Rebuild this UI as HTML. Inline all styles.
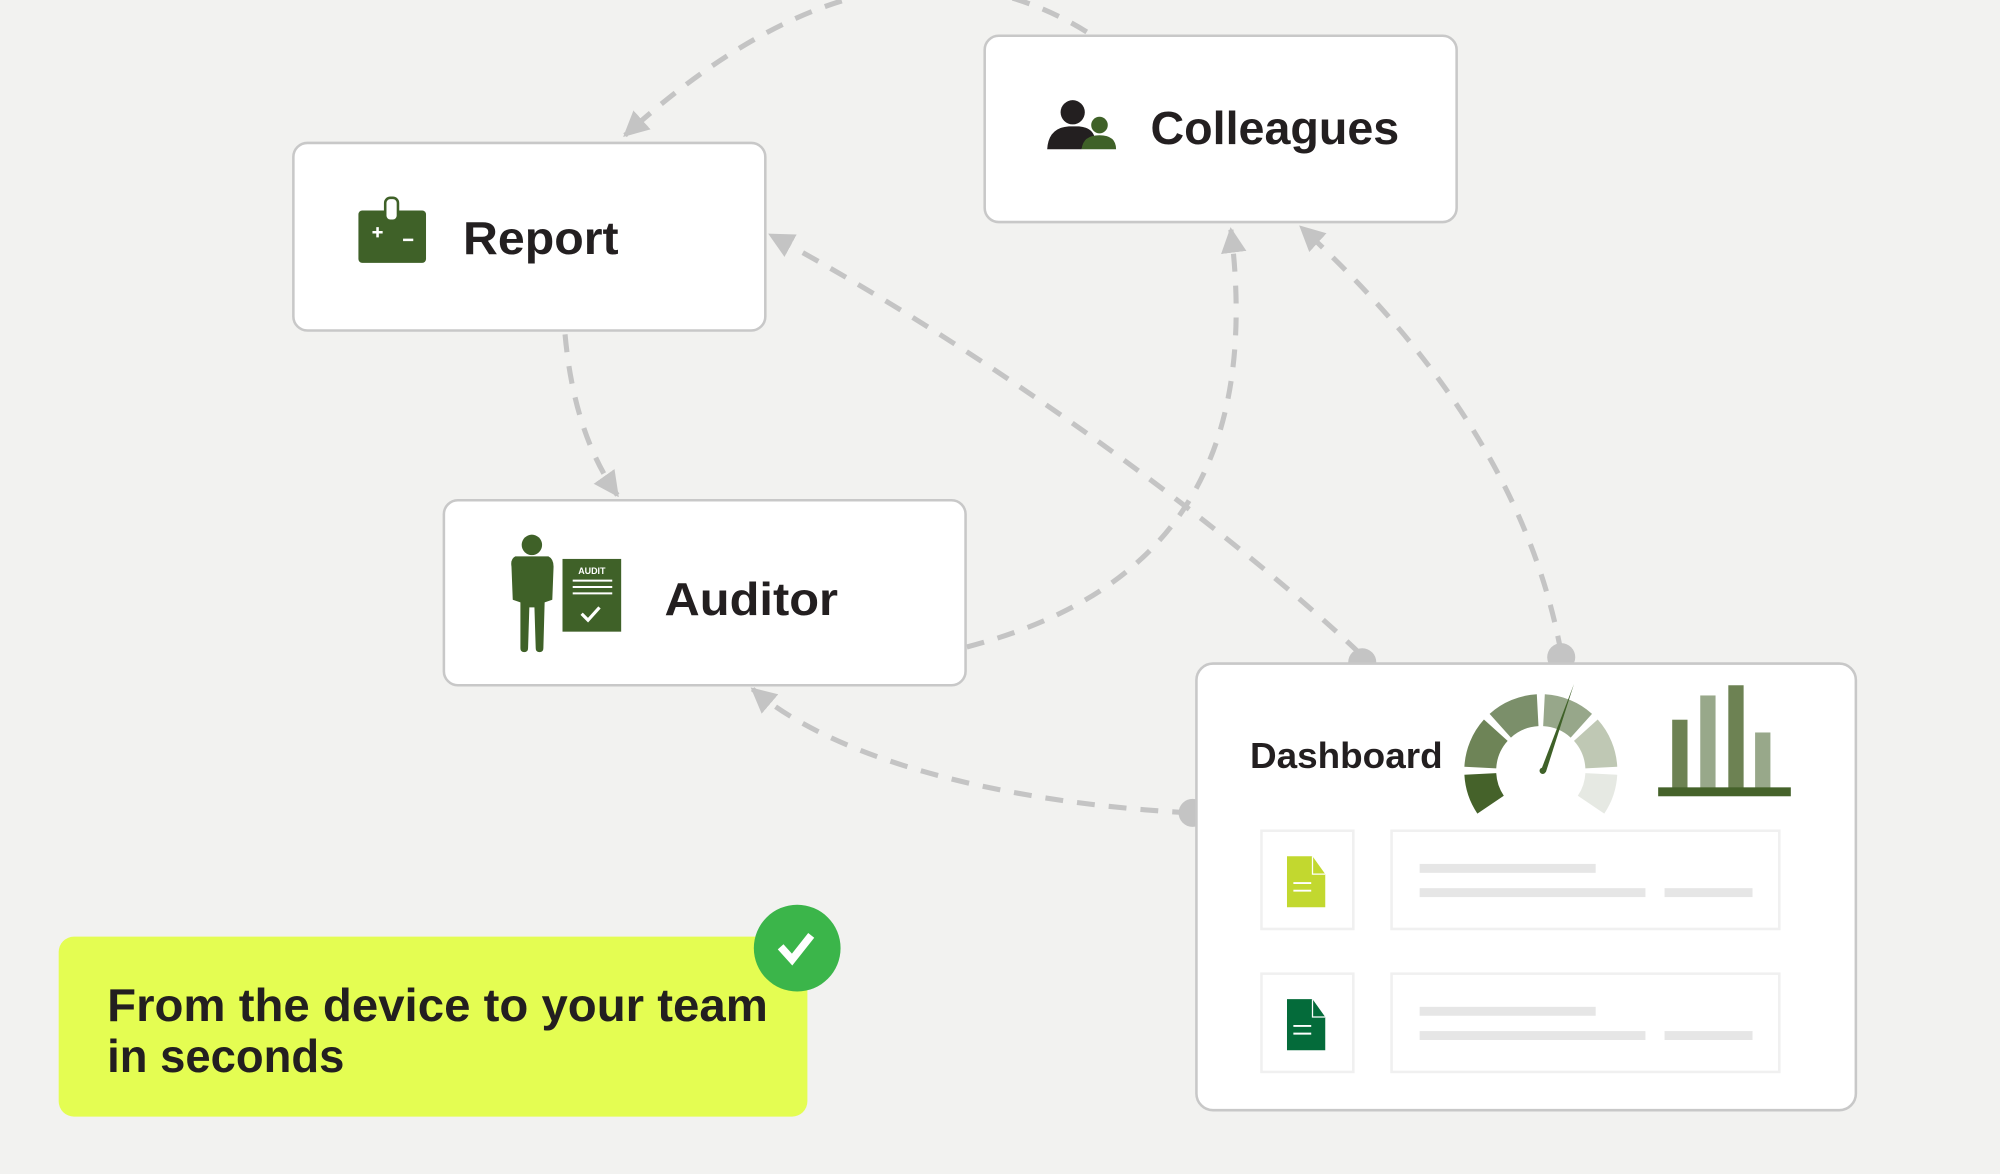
<!DOCTYPE html>
<html><head><meta charset="utf-8"><style>
html,body{margin:0;padding:0;background:#f2f2f0;}
svg{display:block;}
text{font-family:"Liberation Sans",sans-serif;font-weight:bold;fill:#231f20;}
</style></head><body>
<svg width="2000" height="1174" viewBox="0 0 1568 920" preserveAspectRatio="none" xmlns="http://www.w3.org/2000/svg">
<defs>
<marker id="ar" viewBox="0 0 10 10" refX="9" refY="5" markerWidth="5" markerHeight="5" orient="auto" markerUnits="strokeWidth">
<path d="M0,0 L10,5 L0,10 z" fill="#c4c4c4"/></marker>
</defs>
<rect width="1568" height="920" fill="#f2f2f0"/>
<g fill="none" stroke="#c4c4c4" stroke-width="4" stroke-dasharray="14 11">
<path d="M852,25 Q690,-75 490,106" marker-end="url(#ar)"/>
<path d="M443,262 Q450,340 484,388" marker-end="url(#ar)"/>
<path d="M1066,512 C980,430 800,290 604,184" marker-end="url(#ar)"/>
<path d="M758,507 C900,470 990,380 965,180" marker-end="url(#ar)"/>
<path d="M1224,512 C1200,380 1120,270 1020,178" marker-end="url(#ar)"/>
<path d="M933,637 C800,630 660,600 590,540" marker-end="url(#ar)"/>
</g>
<g fill="#c4c4c4"><circle cx="1068" cy="519" r="11"/><circle cx="1224" cy="515" r="11"/><circle cx="935" cy="637" r="11"/></g>

<rect x="230" y="112" width="370" height="147" rx="11" fill="#fff" stroke="#c8c8c8" stroke-width="2"/>
<rect x="281" y="165" width="53" height="41" rx="3" fill="#3f6128"/>
<rect x="302" y="155" width="10" height="18" rx="4" fill="#fff" stroke="#3f6128" stroke-width="2"/>
<path d="M292,182 h8 M296,178 v8 M316,188 h8" stroke="#fff" stroke-width="2"/>
<text x="363" y="199" font-size="36" textLength="122" lengthAdjust="spacingAndGlyphs">Report</text>

<rect x="772" y="28" width="370" height="146" rx="11" fill="#fff" stroke="#c8c8c8" stroke-width="2"/>
<circle cx="841" cy="88" r="9.5" fill="#231f20"/>
<path d="M821,117 Q822,100 838,99 L846,99 Q856,100 858,107 Q850,110 848,117 Z" fill="#231f20"/>
<circle cx="862" cy="98" r="6.5" fill="#3f6128"/>
<path d="M848,117 Q849,106 862,106 Q875,106 875,117 Z" fill="#3f6128"/>
<text x="902" y="113" font-size="36" textLength="195" lengthAdjust="spacingAndGlyphs">Colleagues</text>

<rect x="348" y="392" width="409" height="145" rx="11" fill="#fff" stroke="#c8c8c8" stroke-width="2"/>
<circle cx="417" cy="427" r="8" fill="#3f6128"/>
<path d="M404,436 Q400,438 401,444 L402,470 L408,472 L408,508 Q408,511 411,511 Q414,511 414,508 L415,476 L419,476 L420,508 Q420,511 423,511 Q426,511 426,508 L427,472 L433,470 L434,444 Q434,438 430,436 Z" fill="#3f6128"/>
<rect x="441" y="438" width="46" height="57" fill="#3f6128"/>
<text x="464" y="450" font-size="7" text-anchor="middle" style="fill:#fff">AUDIT</text>
<path d="M449,455 h31 M449,460 h31 M449,465 h31" stroke="#fff" stroke-width="1.5"/>
<path d="M456,481 l5,5 l9,-10" stroke="#fff" stroke-width="2.5" fill="none"/>
<text x="521" y="482" font-size="36" textLength="136" lengthAdjust="spacingAndGlyphs">Auditor</text>

<rect x="938" y="520" width="517" height="350" rx="13" fill="#fff" stroke="#c8c8c8" stroke-width="2"/>
<text x="980" y="602" font-size="28" textLength="151" lengthAdjust="spacingAndGlyphs">Dashboard</text>
<g id="gauge"></g>
<path d="M1208,604 L1234,536 L1212,605 Z" fill="#3f6128"/>
<circle cx="1209.5" cy="604" r="2.5" fill="#3f6128"/>
<rect x="1311" y="564" width="12" height="54" fill="#6d8253"/>
<rect x="1333" y="545" width="12" height="73" fill="#98a88a"/>
<rect x="1355" y="537" width="12" height="81" fill="#6d8253"/>
<rect x="1376" y="574" width="12" height="44" fill="#98a88a"/>
<rect x="1300" y="617" width="104" height="7" fill="#45622a"/>

<g fill="none" stroke="#f0f0f0" stroke-width="2">
<rect x="989" y="651" width="72" height="77"/><rect x="1091" y="651" width="304" height="77"/>
<rect x="989" y="763" width="72" height="77"/><rect x="1091" y="763" width="304" height="77"/>
</g>
<g fill="#e6e6e6">
<rect x="1113" y="677" width="138" height="7"/><rect x="1113" y="696" width="177" height="7"/><rect x="1305" y="696" width="69" height="7"/>
<rect x="1113" y="789" width="138" height="7"/><rect x="1113" y="808" width="177" height="7"/><rect x="1305" y="808" width="69" height="7"/>
</g>
<path d="M1009,671 L1029,671 L1039,685 L1039,711 L1009,711 Z" fill="#c2d82f"/>
<path d="M1029,671 L1029,685 L1039,685" fill="none" stroke="#fff" stroke-width="1"/>
<path d="M1014,692 h14 M1014,698 h14" stroke="#fff" stroke-width="1.5"/>
<path d="M1009,783 L1029,783 L1039,797 L1039,823 L1009,823 Z" fill="#046b3a"/>
<path d="M1029,783 L1029,797 L1039,797" fill="none" stroke="#fff" stroke-width="1"/>
<path d="M1014,804 h14 M1014,810 h14" stroke="#fff" stroke-width="1.5"/>

<rect x="46" y="734" width="587" height="141" rx="12" fill="#e4fd52"/>
<text x="84" y="800" font-size="36" textLength="518" lengthAdjust="spacingAndGlyphs">From the device to your team</text>
<text x="84" y="840" font-size="36" textLength="186" lengthAdjust="spacingAndGlyphs">in seconds</text>
<circle cx="625" cy="743" r="34" fill="#3bb54a"/>
<path d="M612,742 l9,10 l15,-19" fill="none" stroke="#fff" stroke-width="6" stroke-linejoin="miter"/>
</svg>
<script>
(function(){
var cx=1208,cy=604,R=60,r=35;
var segs=[[-124,-93,"#45622a"],[-87,-48,"#6e8457"],[-42,-3,"#7b8f6a"],[3,42,"#97a78a"],[48,87,"#bfc8b4"],[93,124,"#e6e9e3"]];
function p(a,rad){var t=a*Math.PI/180;return (cx+rad*Math.sin(t)).toFixed(2)+","+(cy-rad*Math.cos(t)).toFixed(2);}
var g=document.getElementById("gauge"),h="";
segs.forEach(function(s){
h+='<path fill="'+s[2]+'" d="M'+p(s[0],R)+' A'+R+','+R+' 0 0 1 '+p(s[1],R)+' L'+p(s[1],r)+' A'+r+','+r+' 0 0 0 '+p(s[0],r)+' Z"/>';
});
g.innerHTML=h;
})();
</script>
</body></html>
